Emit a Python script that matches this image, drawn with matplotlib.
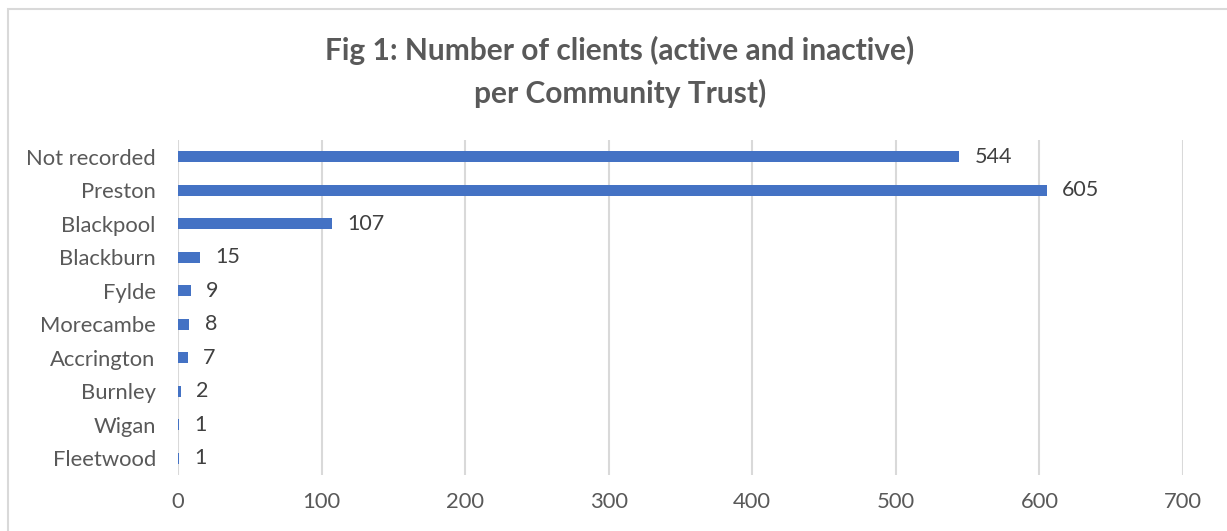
import matplotlib
matplotlib.use("Agg")
import matplotlib.pyplot as plt
from matplotlib.patches import Rectangle

categories = ["Not recorded", "Preston", "Blackpool", "Blackburn", "Fylde",
              "Morecambe", "Accrington", "Burnley", "Wigan", "Fleetwood"]
clients = [544, 605, 107, 15, 9, 8, 7, 2, 1, 1]
x_ticks = [0, 100, 200, 300, 400, 500, 600, 700]

plt.rcParams["font.family"] = ["Lato", "DejaVu Sans"]

fig = plt.figure(figsize=(12.27, 5.31), dpi=100)
fig.patch.set_facecolor("white")

# outer chart border
fig.add_artist(Rectangle((8 / 1227, -0.05), 1.1, 1 - 9 / 531 + 0.05,
                         transform=fig.transFigure, fill=False,
                         edgecolor="#D9D9D9", linewidth=1.5))

ax = fig.add_axes([178 / 1227, 1 - 475 / 531, (1183 - 178) / 1227, (475 - 140) / 531])

ypos = list(range(len(categories)))
ax.barh(ypos, clients, height=0.33, color="#4472C4", zorder=3)
ax.set_ylim(len(categories) - 0.5, -0.5)
ax.set_xlim(0, 700)
ax.set_xticks(x_ticks)
ax.set_yticks(ypos)
ax.set_yticklabels(categories)

for y, v in zip(ypos, clients):
    ax.annotate(str(v), (v, y), xytext=(11, 0), textcoords="offset points",
                va="center", ha="left", fontsize=15.5, color="#404040")

ax.grid(axis="x", color="#D9D9D9", linewidth=1.5, zorder=0)
for s in ax.spines.values():
    s.set_visible(False)
ax.tick_params(axis="both", length=0, labelsize=15.8, labelcolor="#595959")
ax.tick_params(axis="y", pad=16)
ax.tick_params(axis="x", pad=12)

fig.text(620 / 1227, 1 - 72 / 531,
         "Fig 1: Number of clients (active and inactive)\nper Community Trust)",
         ha="center", va="center", fontsize=21.5, fontweight="bold",
         color="#595959", linespacing=1.55)

fig.savefig("out.png", dpi=100)
